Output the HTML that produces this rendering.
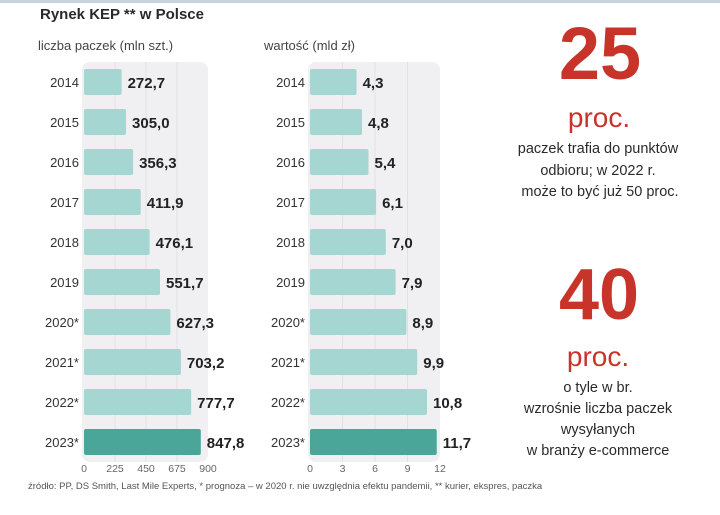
<!DOCTYPE html>
<html><head><meta charset="utf-8"><style>
body{margin:0;background:#fff;width:720px;height:510px;overflow:hidden;font-family:"Liberation Sans",sans-serif}
</style></head><body>
<svg id="s" width="720" height="510" xmlns="http://www.w3.org/2000/svg">
<rect x="0" y="0" width="720" height="3" fill="#c9d3e0"/>
<text x="40" y="19" font-size="15" font-weight="bold" fill="#2a2a2a">Rynek KEP ** w Polsce</text>
<text x="38" y="50" font-size="13" fill="#444">liczba paczek (mln szt.)</text>
<text x="264" y="50" font-size="13" fill="#444">wartość (mld zł)</text>
<g id="c1"></g>
<g id="c2"></g>
<text x="28" y="489" font-size="9.5" fill="#555">źródło: PP, DS Smith, Last Mile Experts, * prognoza – w 2020 r. nie uwzględnia efektu pandemii, ** kurier, ekspres, paczka</text>
<g fill="#c8342a" text-anchor="middle">
<text x="600" y="79" font-size="74" font-weight="bold">25</text>
<text x="599" y="127" font-size="28">proc.</text>
</g>
<g fill="#2a2a2a" font-size="14.5" text-anchor="middle">
<text x="598" y="153">paczek trafia do punktów</text>
<text x="598" y="175">odbioru; w 2022 r.</text>
<text x="600" y="196">może to być już 50 proc.</text>
</g>
<g fill="#c8342a" text-anchor="middle">
<text x="599" y="319" font-size="72" font-weight="bold">40</text>
<text x="598" y="366" font-size="28">proc.</text>
</g>
<g fill="#2a2a2a" font-size="14.5" text-anchor="middle">
<text x="598" y="392">o tyle w br.</text>
<text x="598" y="413">wzrośnie liczba paczek</text>
<text x="598" y="434">wysyłanych</text>
<text x="598" y="455">w branży e-commerce</text>
</g>
</svg>
<script>
const years=["2014","2015","2016","2017","2018","2019","2020*","2021*","2022*","2023*"];
const parcels=[272.7,305.0,356.3,411.9,476.1,551.7,627.3,703.2,777.7,847.8];
const values=[4.3,4.8,5.4,6.1,7.0,7.9,8.9,9.9,10.8,11.7];
const ticks1=[0,225,450,675,900];
const ticks2=[0,3,6,9,12];
const NS="http://www.w3.org/2000/svg";
function mk(p,t,a){const e=document.createElementNS(NS,t);for(const k in a)e.setAttribute(k,a[k]);p.appendChild(e);return e;}
function draw(g,data,ticks,x0,w,yearX){
  const max=ticks[ticks.length-1];
  const xs=v=>x0+v/max*w;
  const ys=i=>82+i*40;
  const bg=mk(g,'rect',{x:x0-2,y:62,width:w+2,height:400,rx:8,fill:'#f0eff2'});
  
  
  ticks.forEach((t,i)=>{
    if(i>0&&i<ticks.length-1){const l=mk(g,'line',{x1:xs(t),x2:xs(t),y1:62,y2:462,stroke:'#e2e0e6','stroke-width':1});
    
    }
    const tx=mk(g,'text',{x:xs(t),y:472,'font-size':10.5,fill:'#666','text-anchor':'middle'});tx.textContent=t;
    
    
  });
  data.forEach((v,i)=>{
    const last=i===data.length-1;
    const r=mk(g,'rect',{x:x0,y:ys(i)-13,width:xs(v)-x0,height:26,rx:2,fill:last?'#49a699':'#a5d6d2'});
    
    
    const yl=mk(g,'text',{x:yearX,y:ys(i)+5,'font-size':13,fill:'#333','text-anchor':'end'});yl.textContent=years[i];
    
    
    const vl=mk(g,'text',{x:xs(v)+6,y:ys(i)+6,'font-size':15,'font-weight':'bold',fill:'#222'});
    vl.textContent=v.toFixed(1).replace('.',',');
    
    
  });
}
draw(document.getElementById('c1'),parcels,ticks1,84,124,79);
draw(document.getElementById('c2'),values,ticks2,310,130,305);
</script>
</body></html>
